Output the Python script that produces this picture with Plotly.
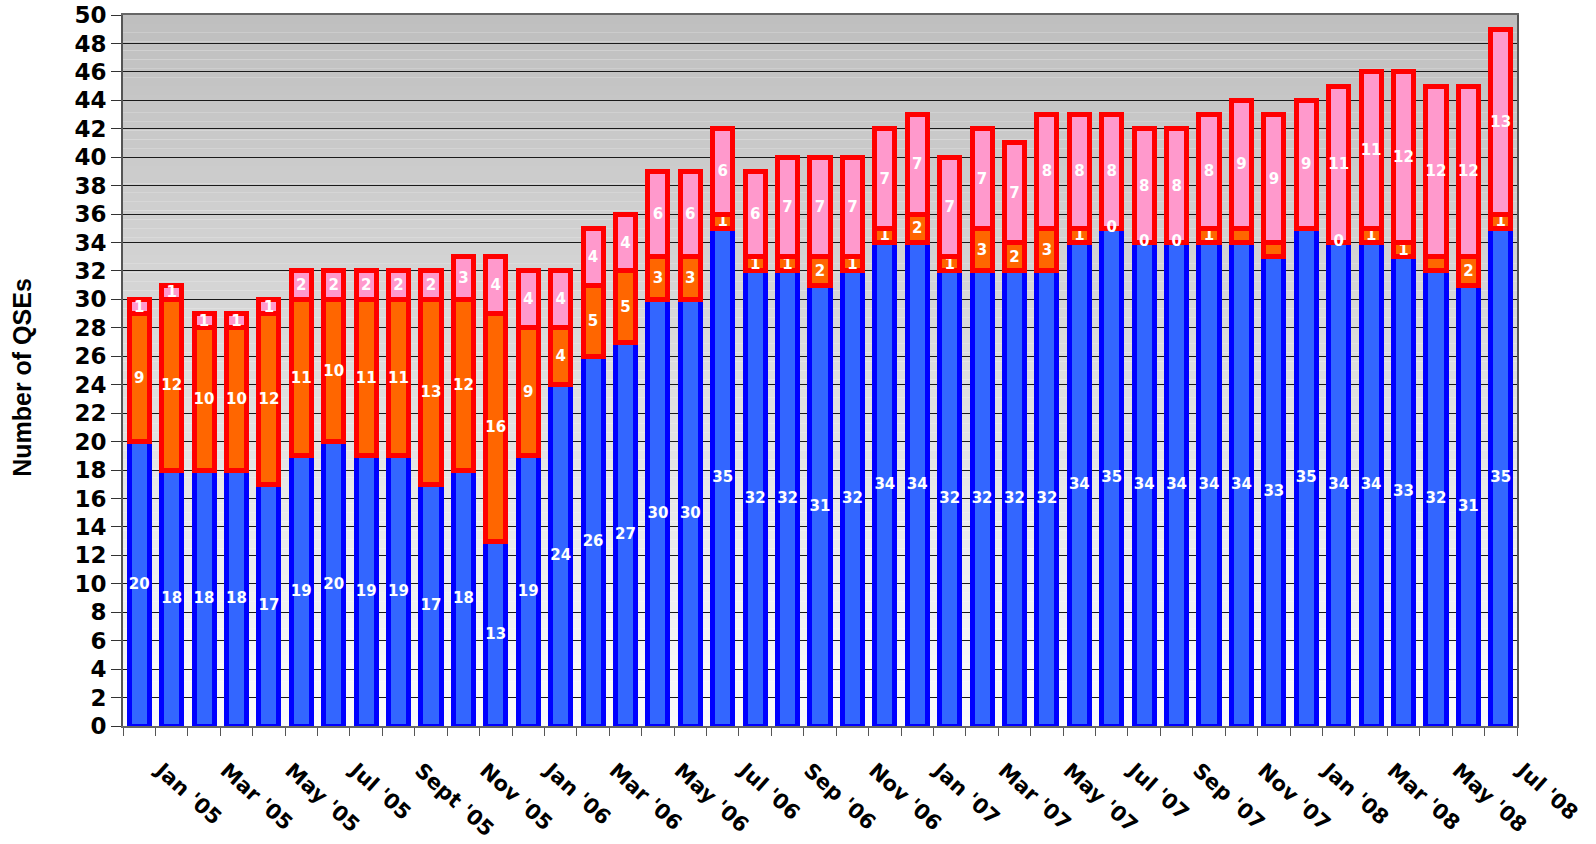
import plotly.graph_objects as go

# ---------------- data ----------------
months = [
    "Jan '05", "Feb '05", "Mar '05", "Apr '05", "May '05", "Jun '05", "Jul '05", "Aug '05",
    "Sept '05", "Oct '05", "Nov '05", "Dec '05",
    "Jan '06", "Feb '06", "Mar '06", "Apr '06", "May '06", "Jun '06", "Jul '06", "Aug '06",
    "Sep '06", "Oct '06", "Nov '06", "Dec '06",
    "Jan '07", "Feb '07", "Mar '07", "Apr '07", "May '07", "Jun '07", "Jul '07", "Aug '07",
    "Sep '07", "Oct '07", "Nov '07", "Dec '07",
    "Jan '08", "Feb '08", "Mar '08", "Apr '08", "May '08", "Jun '08", "Jul '08",
]
blue_vals = [20, 18, 18, 18, 17, 19, 20, 19, 19, 17, 18, 13, 19, 24, 26, 27, 30, 30, 35, 32, 32,
             31, 32, 34, 34, 32, 32, 32, 32, 34, 35, 34, 34, 34, 34, 33, 35, 34, 34, 33, 32, 31, 35]
orange_vals = [9, 12, 10, 10, 12, 11, 10, 11, 11, 13, 12, 16, 9, 4, 5, 5, 3, 3, 1, 1, 1,
               2, 1, 1, 2, 1, 3, 2, 3, 1, 0, 0, 0, 1, 1, 1, 0, 0, 1, 1, 1, 2, 1]
pink_vals = [1, 1, 1, 1, 1, 2, 2, 2, 2, 2, 3, 4, 4, 4, 4, 4, 6, 6, 6, 6, 7,
             7, 7, 7, 7, 7, 7, 7, 8, 8, 8, 8, 8, 8, 9, 9, 9, 11, 11, 12, 12, 12, 13]
# middle-series labels that the original chart does not show
orange_hidden = [34, 35, 36, 40]
# every other month carries a tick label
tick_every = 2

# ---------------- derived texts ----------------
blue_text = [str(v) for v in blue_vals]
pink_text = [str(v) for v in pink_vals]
orange_text = ["" if (i in orange_hidden or v == 0) else str(v) for i, v in enumerate(orange_vals)]
zero_x = [m for i, (m, v) in enumerate(zip(months, orange_vals)) if v == 0 and i not in orange_hidden]
zero_y = [b for i, (b, v) in enumerate(zip(blue_vals, orange_vals)) if v == 0 and i not in orange_hidden]
tick_text = [m if i % tick_every == 0 else "" for i, m in enumerate(months)]

LABEL_FONT = dict(family="DejaVu Sans", size=15, color="white", weight="bold")

fig = go.Figure()
fig.add_trace(go.Bar(
    x=months, y=blue_vals, name="Blue", text=blue_text,
    textposition="inside", insidetextanchor="middle", textangle=0,
    textfont=LABEL_FONT,
    marker=dict(color="#3366ff", line=dict(color="#0000ff", width=5)),
))
fig.add_trace(go.Bar(
    x=months, y=orange_vals, name="Orange", text=orange_text,
    textposition="inside", insidetextanchor="middle", textangle=0,
    textfont=LABEL_FONT,
    marker=dict(color="#ff6600", line=dict(color="#ff0000", width=5)),
))
fig.add_trace(go.Bar(
    x=months, y=pink_vals, name="Pink", text=pink_text,
    textposition="inside", insidetextanchor="middle", textangle=0,
    textfont=LABEL_FONT,
    marker=dict(color="#ff99cc", line=dict(color="#ff0000", width=5)),
))
fig.add_trace(go.Scatter(
    x=zero_x, y=zero_y, mode="text", text=["0"] * len(zero_x),
    textposition="middle center", textfont=LABEL_FONT, hoverinfo="skip",
))

# vertical gradient background for the plot area
shapes = []
nb = 80
for k in range(nb):
    f = k / (nb - 1)
    c = int(round(191 + (250 - 191) * f))
    shapes.append(dict(
        type="rect", xref="paper", yref="paper", x0=0, x1=1,
        y0=1 - (k + 1) / nb, y1=1 - k / nb,
        fillcolor=f"rgb({c},{c},{c})", line=dict(width=0), layer="below",
    ))

fig.update_layout(
    width=1596, height=844,
    margin=dict(l=123, r=79, t=15, b=118, autoexpand=False),
    paper_bgcolor="white", plot_bgcolor="rgba(0,0,0,0)",
    barmode="stack", bargap=0.38,
    showlegend=False,
    uniformtext=dict(minsize=15, mode="show"),
    shapes=shapes,
    annotations=[dict(
        text="Number of QSEs", textangle=-90, xref="paper", yref="paper",
        x=-0.073, y=0.49, xanchor="center", yanchor="middle", showarrow=False,
        font=dict(family="Liberation Sans", size=25, color="black", weight="bold"),
    )],
)
fig.update_xaxes(
    type="category", categoryorder="array", categoryarray=months,
    tickmode="array", tickvals=months, ticktext=tick_text,
    tickson="boundaries", ticks="outside", ticklen=8, tickcolor="#555",
    tickangle=42, tickfont=dict(family="DejaVu Sans", size=21, color="black", weight="bold"),
    ticklabelshift=22, ticklabelstandoff=22, ticklabeloverflow="allow",
    showline=True, linecolor="#666", linewidth=2, mirror=True,
    showgrid=False, range=[-0.5, len(months) - 0.5], automargin=False,
)
fig.update_yaxes(
    range=[0, 50], dtick=2, tick0=0,
    showgrid=True, gridcolor="#1a1a1a", gridwidth=1,
    ticks="outside", ticklen=10, tickcolor="#333",
    tickfont=dict(family="DejaVu Sans", size=23, color="black", weight="bold"),
    ticklabeloverflow="allow",
    showline=True, linecolor="#555", linewidth=2, mirror=True,
    zeroline=False, automargin=False,
)

fig.write_html("out.html", config={"displayModeBar": False},
               post_script="document.body.style.margin='0px';")
